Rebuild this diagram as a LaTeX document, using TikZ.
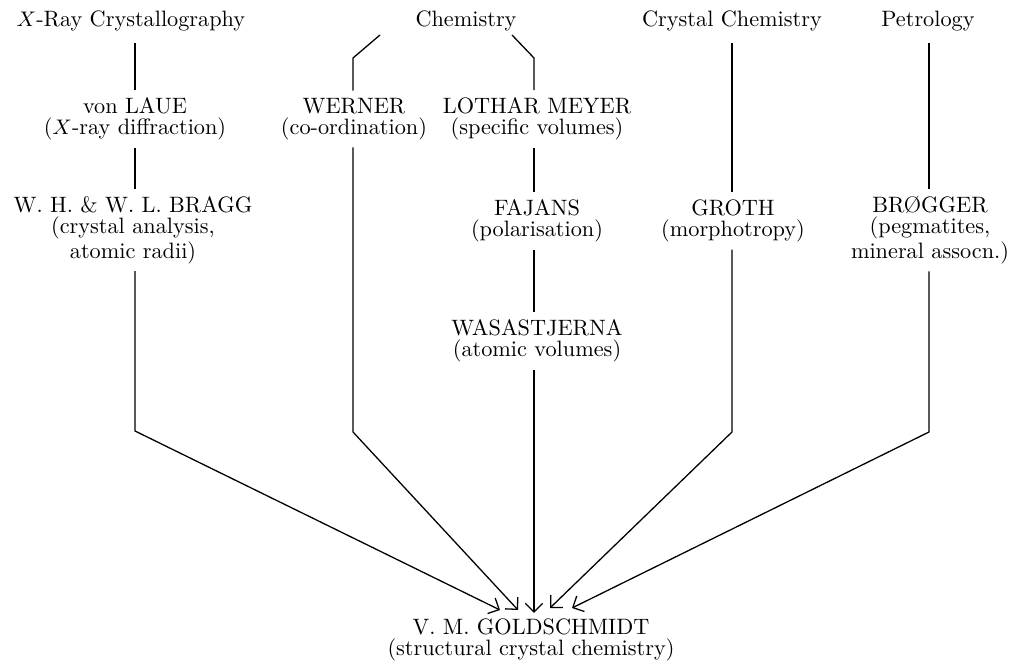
\documentclass[tikz,border=0pt]{standalone}
\usepackage{tikz}
\usetikzlibrary{arrows.meta,positioning}

\begin{document}
\begin{tikzpicture}[
  x=0.015cm, y=-0.015cm,
  field/.style={inner sep=5pt, font=\fontsize{9.5}{9}\selectfont},
  person/.style={align=center, inner sep=3pt, font=\fontsize{9.5}{9}\selectfont},
  link/.style={line width=0.55pt},
  arrow/.style={line width=0.55pt, -{Straight Barb[length=1.3mm, width=2.6mm]}}
]
  \useasboundingbox (0,0) rectangle (1011,667);

  % fields along the top
  \node[field] (xray) at (131,21) {$X$-Ray Crystallography};
  \node[field] (chem) at (466,21) {Chemistry};
  \node[field] (cryschem) at (732,21) {Crystal Chemistry};
  \node[field] (petro) at (928,21) {Petrology};

  % the people
  \node[person] (laue) at (135,119) {von LAUE\\($X$-ray diffraction)};
  \node[person] (werner) at (354,119) {WERNER\\(co-ordination)};
  \node[person] (meyer) at (537,119) {LOTHAR MEYER\\(specific volumes)};
  \node[person] (bragg) at (133,230) {W. H. \& W. L. BRAGG\\(crystal analysis,\\atomic radii)};
  \node[person] (fajans) at (537,221) {FAJANS\\(polarisation)};
  \node[person] (groth) at (733,221) {GROTH\\(morphotropy)};
  \node[person] (brogger) at (930,230) {BR\O GGER\\(pegmatites,\\mineral assocn.)};
  \node[person] (wasast) at (537,341) {WASASTJERNA\\(atomic volumes)};
  \node[person] (gold) at (531,640) {V. M. GOLDSCHMIDT\\(structural crystal chemistry)};

  % fork below Chemistry
  \coordinate (chL) at (380,35);
  \coordinate (chLb) at (353,58);
  \coordinate (chR) at (512,35);
  \coordinate (chRb) at (534,58);

  % bends above the fan of arrows
  \coordinate (bBragg) at (135,431);
  \coordinate (bWerner) at (353,432);
  \coordinate (bGroth) at (732,432);
  \coordinate (bBrogger) at (929,432);

  % arrow tips
  \coordinate (tBragg) at (500,610);
  \coordinate (tWerner) at (518,610);
  \coordinate (tWasast) at (534,613);
  \coordinate (tGroth) at (550,608);
  \coordinate (tBrogger) at (572,608);

  \draw[link] (xray.south -| laue) -- (laue);
  \draw[link] (laue) -- (bragg.north -| laue);
  \draw[link] (chL) -- (chLb) -- (chLb |- werner.north);
  \draw[link] (chR) -- (chRb) -- (chRb |- meyer.north);
  \draw[link] (meyer.south -| chRb) -- (fajans.north -| chRb);
  \draw[link] (fajans.south -| chRb) -- (wasast.north -| chRb);
  \draw[link] (cryschem.south -| bGroth) -- (groth.north -| bGroth);
  \draw[link] (petro.south -| bBrogger) -- (brogger.north -| bBrogger);

  \draw[arrow] (bragg.south -| bBragg) -- (bBragg) -- (tBragg);
  \draw[arrow] (werner.south -| bWerner) -- (bWerner) -- (tWerner);
  \draw[arrow] (wasast.south -| tWasast) -- (tWasast);
  \draw[arrow] (groth.south -| bGroth) -- (bGroth) -- (tGroth);
  \draw[arrow] (brogger.south -| bBrogger) -- (bBrogger) -- (tBrogger);
\end{tikzpicture}
\end{document}
